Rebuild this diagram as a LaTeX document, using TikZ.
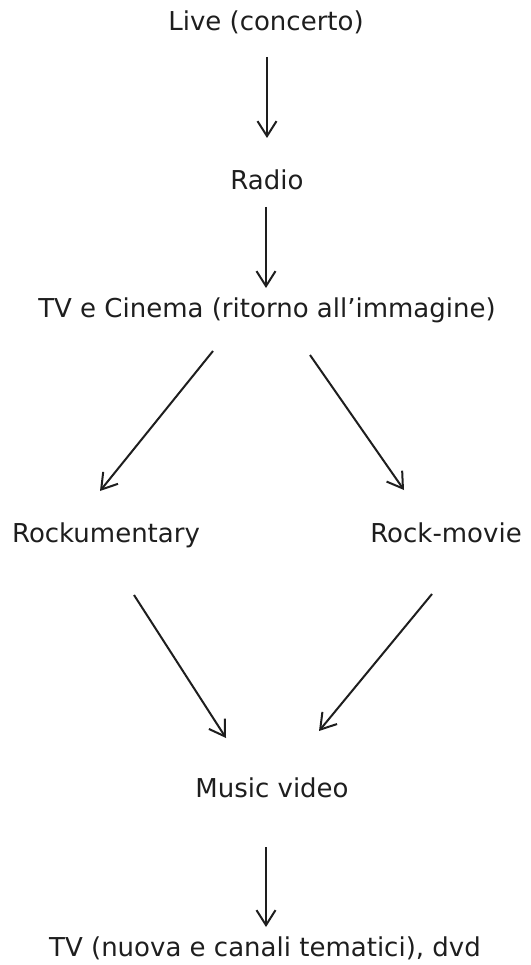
\documentclass[tikz,border=0pt]{standalone}
\usepackage{fontspec}
\setmainfont{DejaVu Sans}
\usetikzlibrary{arrows.meta}
\definecolor{ink}{HTML}{1E1E1E}
\begin{document}
\begin{tikzpicture}[x=1pt,y=-1pt,
  lbl/.style={inner sep=0pt,anchor=base,text=ink,font=\fontsize{26}{31}\selectfont},
  flow/.style={draw=ink,line width=2pt,-{Straight Barb[length=15pt,width=19pt,line width=2pt]}}]
\useasboundingbox (0,0) rectangle (530,965);
\node[lbl] (live)  at (266,31)  {Live (concerto)};
\node[lbl] (radio) at (267,190) {Radio};
\node[lbl] (tvc)   at (267,317.5) {TV e Cinema (ritorno all’immagine)};
\node[lbl] (rockd) at (106,542) {Rockumentary};
\node[lbl] (rockm) at (446,542) {Rock-movie};
\node[lbl] (music) at (272,797.5) {Music video};
\node[lbl] (tvn)   at (265,956.5) {TV (nuova e canali tematici), dvd};
\coordinate (a1s) at (267,57);  \coordinate (a1e) at (267,138);
\coordinate (a2s) at (266,207); \coordinate (a2e) at (266,288);
\coordinate (a3s) at (213,351); \coordinate (a3e) at (100,491);
\coordinate (a4s) at (310,355); \coordinate (a4e) at (404,490);
\coordinate (a5s) at (134,595); \coordinate (a5e) at (226,738);
\coordinate (a6s) at (432,594); \coordinate (a6e) at (319,731);
\coordinate (a7s) at (266,847); \coordinate (a7e) at (266,927);
\draw[flow] (a1s) -- (a1e);
\draw[flow] (a2s) -- (a2e);
\draw[flow] (a3s) -- (a3e);
\draw[flow] (a4s) -- (a4e);
\draw[flow] (a5s) -- (a5e);
\draw[flow] (a6s) -- (a6e);
\draw[flow] (a7s) -- (a7e);
\end{tikzpicture}
\end{document}
